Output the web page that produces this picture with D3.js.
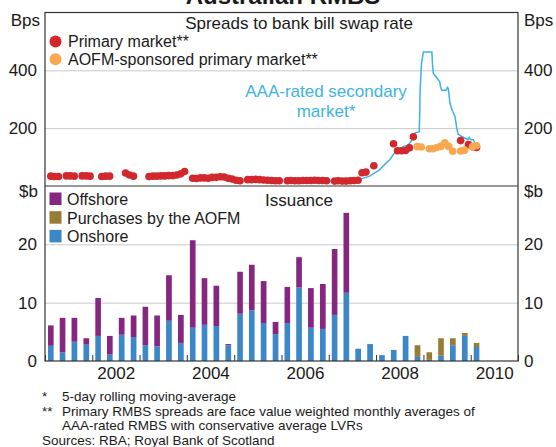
<!DOCTYPE html>
<meta charset="utf-8">
<html>
<head>
<script src="https://d3js.org/d3.v7.min.js"></script>
<style>
  body { margin: 0; background: #fff; }
  text { font-family: "Liberation Sans", Arial, sans-serif; fill: #1a1a1a; }
</style>
</head>
<body>
<div id="chart"></div>
<script>

  // ---- data ----
  // issuance, $b per quarter
  const quarters = ["2001-Q1","2001-Q2","2001-Q3","2001-Q4","2002-Q1","2002-Q2","2002-Q3","2002-Q4",
    "2003-Q1","2003-Q2","2003-Q3","2003-Q4","2004-Q1","2004-Q2","2004-Q3","2004-Q4",
    "2005-Q1","2005-Q2","2005-Q3","2005-Q4","2006-Q1","2006-Q2","2006-Q3","2006-Q4",
    "2007-Q1","2007-Q2","2007-Q3","2007-Q4","2008-Q1","2008-Q2","2008-Q3","2008-Q4",
    "2009-Q1","2009-Q2","2009-Q3","2009-Q4","2010-Q1"];
  const onshore = [2.6,1.5,3.3,2.8, 4.3,1.1,4.5,4.1, 2.7,2.5,6.9,3.1, 5.7,6.2,6.0,2.7,
    8.1,8.7,6.5,4.6, 6.5,12.6,5.7,5.5, 7.9,11.7,2.1,2.9, 1.0,1.9,4.3,0.7, 0.2,0.9,2.7,4.3, 2.4];
  const aofm = [0,0,0,0, 0,0,0,0, 0,0,0,0, 0,0,0,0,
    0,0,0,0, 0,0,0,0, 0,0,0,0, 0,0,0,2.0, 1.3,3.0,1.2,0.5, 0.7];
  const offshore = [3.5,5.9,4.1,1.1, 6.5,3.2,2.9,3.7, 6.6,5.3,7.8,4.8, 15.0,8.0,6.9,0.2,
    7.2,7.8,7.2,2.1, 6.2,5.2,6.8,7.7, 11.3,13.7,0,0, 0,0,0,0, 0,0,0,0, 0];

  // primary market spreads, bps (monthly)
  const primaryMonths = ["2001-02","2001-03","2001-04","2001-06","2001-07","2001-08","2001-10","2001-11","2001-12",
    "2002-03","2002-04","2002-05","2002-09","2002-10","2002-11",
    "2003-03","2003-04","2003-05","2003-06","2003-07","2003-08","2003-09","2003-10","2003-11","2003-12",
    "2004-02","2004-03","2004-04","2004-05","2004-06","2004-07","2004-08","2004-09","2004-10","2004-11","2004-12",
    "2005-01","2005-02","2005-04","2005-05","2005-06","2005-07","2005-08","2005-09","2005-10","2005-11","2005-12",
    "2006-02","2006-03","2006-04","2006-05","2006-06","2006-07","2006-08","2006-09","2006-10","2006-11","2006-12",
    "2007-02","2007-03","2007-04","2007-05","2007-06","2007-07","2007-08","2007-09","2007-10","2007-12",
    "2008-05","2008-06","2008-07","2008-08","2008-09","2008-10",
    "2009-10","2009-12","2010-01","2010-02"];
  const primarySpread = [34,33,33,35,35,34,35,35,34,
    33,34,34,45,38,34,
    33,34,34,35,35,36,36,38,42,50,
    27,26,28,28,27,30,30,32,31,27,24,
    20,18,22,22,23,22,21,20,19,18,18,
    18,19,18,18,19,19,19,20,19,19,18,
    17,18,17,17,18,19,20,46,48,70,
    146,122,122,123,132,170,
    157,143,136,133];

  // AOFM-sponsored primary market spreads, bps
  const aofmMonths = ["2008-11","2008-12","2009-02","2009-03","2009-04","2009-05","2009-06","2009-07",
    "2009-08","2009-10","2009-11","2010-01","2010-02"];
  const aofmSpread = [136,135,129,129,133,137,149,137,120,121,124,136,139];

  // AAA-rated secondary market, 5-day moving average, bps
  const secondaryDates = ["2006-12-20","2007-03-01","2007-05-15","2007-07-15","2007-08-10","2007-08-29",
    "2007-10-01","2007-11-13","2007-12-24","2008-01-25","2008-02-23","2008-03-20","2008-04-16",
    "2008-05-12","2008-06-21","2008-07-31","2008-08-31","2008-09-25","2008-10-27","2008-11-29",
    "2008-12-03","2008-12-06","2008-12-17","2008-12-31","2009-03-07","2009-03-12","2009-03-18",
    "2009-04-10","2009-05-07","2009-05-12","2009-05-22","2009-06-25","2009-07-05","2009-07-12",
    "2009-07-18","2009-07-25","2009-08-10","2009-09-02","2009-09-15","2009-09-25","2009-10-24",
    "2009-11-17","2009-12-10","2009-12-20","2009-12-31","2010-01-20","2010-02-03"];
  const secondarySpread = [17,17,18,19,22,23,
    28,34,46,55,68,80,91,
    108,126,137,140,152,183,188,
    240,331,423,463,463,420,389,
    377,360,345,331,331,341,337,
    314,286,263,240,200,180,171,
    166,160,168,160,160,149];

  const yearLabels = [2002, 2004, 2006, 2008, 2010];

  // ---- layout ----
  const W = 556, H = 447;
  const plotL = 45, plotR = 518, plotT = 12.5, plotMid = 186, plotB = 361;

  const svg = d3.select("#chart").append("svg")
    .attr("width", W).attr("height", H);

  const x = d3.scaleTime()
    .domain([new Date(2001, 0, 1), new Date(2011, 0, 1)])
    .range([plotL, plotR]);
  const yTop = d3.scaleLinear().domain([0, 600]).range([plotMid, plotT]);
  const yBot = d3.scaleLinear().domain([0, 30]).range([plotB, plotMid]);

  const parseMonth = s => { const p = s.split("-"); return new Date(+p[0], +p[1] - 1, 15); };
  const parseQ = s => { const y = +s.slice(0, 4), q = +s.slice(6); return [new Date(y, (q - 1) * 3, 1), new Date(y, q * 3, 1)]; };

  // gridlines
  svg.append("g")
    .attr("transform", `translate(${plotL},0)`)
    .call(d3.axisLeft(yTop).tickValues([200, 400]).tickSize(-(plotR - plotL)).tickFormat(""))
    .call(g => g.select(".domain").remove())
    .selectAll("line").attr("stroke", "#c8c8c8");
  svg.append("g")
    .attr("transform", `translate(${plotL},0)`)
    .call(d3.axisLeft(yBot).tickValues([10, 20]).tickSize(-(plotR - plotL)).tickFormat(""))
    .call(g => g.select(".domain").remove())
    .selectAll("line").attr("stroke", "#c8c8c8");

  // bars
  const rows = quarters.map((q, i) => ({q: q, onshore: onshore[i], aofm: aofm[i], offshore: offshore[i]}));
  const keys = ["onshore", "aofm", "offshore"];
  const colors = {onshore: "#3b87c8", aofm: "#967c35", offshore: "#86277f"};
  const stacked = d3.stack().keys(keys)(rows);

  svg.append("g").selectAll("g")
    .data(stacked)
    .join("g")
      .attr("fill", d => colors[d.key])
    .selectAll("rect")
    .data(d => d)
    .join("rect")
      .attr("x", d => { const [a, b] = parseQ(d.data.q); const w = (x(b) - x(a)) * 0.48; return (x(a) + x(b)) / 2 - w / 2; })
      .attr("width", d => { const [a, b] = parseQ(d.data.q); return (x(b) - x(a)) * 0.48; })
      .attr("y", d => yBot(d[1]))
      .attr("height", d => yBot(d[0]) - yBot(d[1]));

  // secondary market line
  const secondary = secondaryDates.map((d, i) => ({date: d3.timeParse("%Y-%m-%d")(d), v: secondarySpread[i]}));
  svg.append("path")
    .datum(secondary)
    .attr("fill", "none")
    .attr("stroke", "#3cb4e6")
    .attr("stroke-width", 1.5)
    .attr("d", d3.line().x(d => x(d.date)).y(d => yTop(d.v)));

  // dots
  svg.append("g").selectAll("circle")
    .data(primaryMonths.map((m, i) => ({date: parseMonth(m), v: primarySpread[i]})))
    .join("circle")
      .attr("cx", d => x(d.date))
      .attr("cy", d => yTop(d.v))
      .attr("r", 3.8)
      .attr("fill", "#d2282d");
  svg.append("g").selectAll("circle")
    .data(aofmMonths.map((m, i) => ({date: parseMonth(m), v: aofmSpread[i]})))
    .join("circle")
      .attr("cx", d => x(d.date))
      .attr("cy", d => yTop(d.v))
      .attr("r", 3.8)
      .attr("fill", "#f9a850");

  // x axis: year ticks pointing up, labels mid-year
  svg.append("g")
    .attr("transform", `translate(0,${plotB})`)
    .call(d3.axisBottom(x).ticks(d3.timeYear.every(1)).tickSize(-6).tickFormat(""))
    .call(g => g.select(".domain").remove())
    .selectAll("line").attr("stroke", "#333");
  svg.append("g")
    .attr("transform", `translate(0,${plotB})`)
    .call(d3.axisBottom(x).tickValues(yearLabels.map(y => new Date(y, 6, 1))).tickSize(0).tickPadding(6)
      .tickFormat(d3.timeFormat("%Y")))
    .call(g => g.select(".domain").remove())
    .selectAll("text").style("font-size", "17px").attr("fill", "#1a1a1a");

  // y axes labels
  function yLabels(scale, vals) {
    svg.append("g")
      .attr("transform", `translate(${plotL},0)`)
      .call(d3.axisLeft(scale).tickValues(vals).tickSize(0).tickPadding(8).tickFormat(d3.format("d")))
      .call(g => g.select(".domain").remove())
      .selectAll("text").style("font-size", "17px").attr("fill", "#1a1a1a");
    svg.append("g")
      .attr("transform", `translate(${plotR},0)`)
      .call(d3.axisRight(scale).tickValues(vals).tickSize(0).tickPadding(6).tickFormat(d3.format("d")))
      .call(g => g.select(".domain").remove())
      .selectAll("text").style("font-size", "17px").attr("fill", "#1a1a1a");
  }
  yLabels(yTop, [200, 400]);
  yLabels(yBot, [0, 10, 20]);

  // frame
  const frame = svg.append("g").attr("stroke", "#333").attr("fill", "none");
  frame.append("rect").attr("x", plotL).attr("y", plotT).attr("width", plotR - plotL).attr("height", plotB - plotT).attr("stroke-width", 1.2);
  frame.append("line").attr("x1", plotL).attr("x2", plotR).attr("y1", plotMid).attr("y2", plotMid).attr("stroke-width", 1.2);

  // units
  const unit = (t, xx, yy, anchor) => svg.append("text").attr("x", xx).attr("y", yy)
    .attr("text-anchor", anchor).style("font-size", "17px").text(t);
  unit("Bps", 40, 26, "end");
  unit("Bps", 524, 26, "start");
  unit("$b", 38, 197, "end");
  unit("$b", 524, 197, "start");

  // titles
  svg.append("text").attr("x", 283).attr("y", 4).attr("text-anchor", "middle")
    .style("font-size", "24px").style("font-weight", "bold").text("Australian RMBS");
  svg.append("text").attr("x", 299).attr("y", 29).attr("text-anchor", "middle")
    .style("font-size", "17px").text("Spreads to bank bill swap rate");
  svg.append("text").attr("x", 299).attr("y", 206).attr("text-anchor", "middle")
    .style("font-size", "17px").text("Issuance");

  // annotation
  const ann = svg.append("text").attr("text-anchor", "middle").style("font-size", "17px").style("fill", "#3cb4e6");
  ann.append("tspan").attr("x", 326).attr("y", 97).text("AAA-rated secondary");
  ann.append("tspan").attr("x", 326).attr("y", 117).text("market*");

  // legend, spreads
  const leg1 = [["Primary market**", "#d2282d"], ["AOFM-sponsored primary market**", "#f9a850"]];
  leg1.forEach((d, i) => {
    svg.append("circle").attr("cx", 55.5).attr("cy", 41.5 + i * 17.7).attr("r", 6).attr("fill", d[1]);
    svg.append("text").attr("x", 68).attr("y", 47 + i * 17.7).style("font-size", "16px").text(d[0]);
  });

  // legend, issuance
  const leg2 = [["Offshore", colors.offshore], ["Purchases by the AOFM", colors.aofm], ["Onshore", colors.onshore]];
  leg2.forEach((d, i) => {
    svg.append("rect").attr("x", 49.5).attr("y", 192.5 + i * 18.7).attr("width", 12).attr("height", 12.5).attr("fill", d[1]);
    svg.append("text").attr("x", 67).attr("y", 205 + i * 18.7).style("font-size", "16px").text(d[0]);
  });

  // footnotes
  const notes = [
    ["*", "5-day rolling moving-average", 401],
    ["**", "Primary RMBS spreads are face value weighted monthly averages of", 415.5],
    ["", "AAA-rated RMBS with conservative average LVRs", 429.5]
  ];
  notes.forEach(n => {
    svg.append("text").attr("x", 42).attr("y", n[2]).style("font-size", "13.5px").text(n[0]);
    svg.append("text").attr("x", 62).attr("y", n[2]).style("font-size", "13.5px").text(n[1]);
  });
  svg.append("text").attr("x", 42).attr("y", 444.5).style("font-size", "13.5px").text("Sources: RBA; Royal Bank of Scotland");

</script>
</body>
</html>
